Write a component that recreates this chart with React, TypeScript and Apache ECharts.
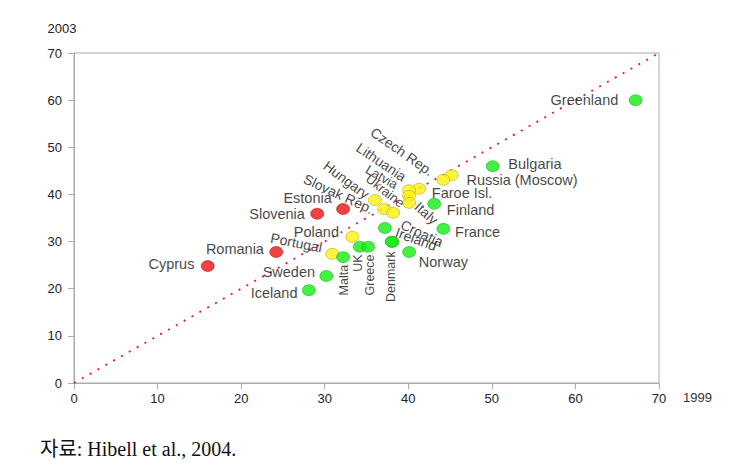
import React, { useEffect, useRef } from "react";
import * as echarts from "echarts";

const countries = [
  "Greenland", "Bulgaria", "Russia (Moscow)", "Czech Rep.", "Faroe Isl.", "Lithuania", "Latvia",
  "Ukraine", "Finland", "Hungary", "Slovak Rep.", "Italy", "Estonia", "Slovenia", "Croatia",
  "France", "Ireland", "Denmark", "Poland", "Portugal", "Malta", "UK", "Greece", "Norway",
  "Romania", "Cyprus", "Sweden", "Iceland",
];
const values1999 = [
  67.2, 50.1, 45.2, 44.2, 41.3, 40.1, 40.1, 40.1, 43.1, 36.0, 37.1, 38.2, 32.2, 29.1, 37.2,
  44.2, 38.1, 38.0, 33.3, 30.9, 32.2, 34.2, 35.2, 40.1, 24.2, 16.0, 30.2, 28.1,
];
const values2003 = [
  60.0, 46.0, 44.1, 43.1, 41.2, 40.9, 39.7, 38.2, 38.0, 38.8, 36.9, 36.1, 36.9, 35.9, 32.9,
  32.7, 29.9, 30.0, 31.0, 27.4, 26.7, 28.9, 28.9, 27.8, 27.8, 24.8, 22.7, 19.7,
];
const groups = [
  "green", "green", "yellow", "yellow", "yellow", "yellow", "yellow", "yellow", "green", "yellow",
  "yellow", "yellow", "red", "red", "green", "green", "green", "green", "yellow", "yellow",
  "green", "green", "green", "green", "red", "red", "green", "green",
];
const xTicks = [0, 10, 20, 30, 40, 50, 60, 70];
const yTicks = [0, 10, 20, 30, 40, 50, 60, 70];
const diagonal = [[0, 0], [70, 70]];
const xAxisTitle = "1999";
const yAxisTitle = "2003";
const caption = "자료: Hibell et al., 2004.";

const palette: Record<string, { fill: string; border: string }> = {
  green: { fill: "#14ee14", border: "#0aa00a" },
  yellow: { fill: "#fff011", border: "#a09a00" },
  red: { fill: "#ee1111", border: "#a00000" },
};

// label placement: [dx, dy from circle centre, align, rotate, fontSize]
const labelLayout: Record<string, [number, number, string, number, number]> = {
  "Greenland": [-17, 0, "right", 0, 14.5],
  "Bulgaria": [16, -2, "left", 0, 14.5],
  "Russia (Moscow)": [15, 5, "left", 0, 14.5],
  "Czech Rep.": [-11, -7, "right", -35, 14],
  "Faroe Isl.": [13, 5, "left", 0, 14.5],
  "Lithuania": [-4, -12, "right", -34, 14],
  "Latvia": [-12, -10, "right", -30, 13],
  "Ukraine": [-6, 2, "right", -38, 13],
  "Finland": [13, 6, "left", 0, 14.5],
  "Hungary": [-7, -4, "right", -37, 14],
  "Slovak Rep.": [-11, 1, "right", -25, 14],
  "Italy": [24, -8, "left", -42, 14],
  "Estonia": [-11, -11, "right", 0, 14.5],
  "Slovenia": [-12, 1, "right", 0, 14.5],
  "Croatia": [17, -4, "left", -25, 14],
  "France": [12, 3, "left", 0, 14.5],
  "Ireland": [4, -10, "left", -20, 14],
  "Denmark": [0, 10, "right", 90, 12.5],
  "Poland": [-13, -5, "right", 0, 14.5],
  "Portugal": [-10, -6, "right", -11, 14],
  "Malta": [1, 8, "right", 90, 12.5],
  "UK": [-1, 8, "right", 90, 12.5],
  "Greece": [2, 8, "right", 90, 12.5],
  "Norway": [10, 10, "left", 0, 14.5],
  "Romania": [-12, -3, "right", 0, 14.5],
  "Cyprus": [-13, -2, "right", 0, 14.5],
  "Sweden": [-11, -4, "right", 0, 14.5],
  "Iceland": [-11, 3, "right", 0, 14.5],
};

const SYM_W = 13;
const SYM_H = 11;

export default function App() {
  const ref = useRef<HTMLDivElement>(null);
  useEffect(() => {
    if (!ref.current) return;
    const chart = echarts.init(ref.current, null, { renderer: "svg" });
    const points = countries.map((name, i) => {
      const [dx, dy, align, rot, fs] = labelLayout[name];
      const pal = palette[groups[i]];
      return {
        name,
        value: [values1999[i], values2003[i]],
        itemStyle: { color: pal.fill, borderColor: pal.border, borderWidth: 0.6 },
        label: {
          show: true,
          position: [SYM_W / 2 + dx, SYM_H / 2 + dy],
          align,
          verticalAlign: "middle",
          rotate: rot,
          fontSize: fs,
          lineHeight: Math.round(fs * 0.9),
          formatter: name,
        },
      };
    });
    const axisFont = { color: "#222", fontSize: 13, fontFamily: "Liberation Sans, Arial, sans-serif" };
    chart.setOption({
      animation: false,
      backgroundColor: "#ffffff",
      title: {
        text: caption,
        left: 40,
        top: 439,
        padding: 0,
        textStyle: {
          fontFamily: "'Liberation Serif', 'Noto Sans CJK KR', serif",
          fontSize: 20,
          fontWeight: "normal",
          color: "#111",
        },
      },
      graphic: [
        {
          type: "text",
          left: 683,
          top: 391,
          style: { text: xAxisTitle, fill: "#333", font: "13px 'Liberation Sans', Arial, sans-serif" },
        },
      ],
      grid: {
        left: 74,
        right: 77,
        top: 53,
        bottom: 83,
        show: true,
        borderColor: "#aaaaaa",
        borderWidth: 1,
        containLabel: false,
        outerBoundsMode: "none",
      },
      xAxis: {
        type: "value",
        min: xTicks[0],
        max: xTicks[xTicks.length - 1],
        interval: 10,
        axisLine: { show: true, lineStyle: { color: "#aaaaaa", width: 1 } },
        axisTick: { show: true, length: 6, lineStyle: { color: "#aaaaaa" } },
        axisLabel: { ...axisFont, margin: 9 },
        splitLine: { show: false },
      },
      yAxis: {
        type: "value",
        min: yTicks[0],
        max: yTicks[yTicks.length - 1],
        interval: 10,
        name: yAxisTitle,
        nameLocation: "end",
        nameGap: 25,
        nameTextStyle: { ...axisFont, align: "center", verticalAlign: "middle", padding: [0, 24, 0, 0] },
        axisLine: { show: true, lineStyle: { color: "#aaaaaa", width: 1 } },
        axisTick: { show: true, length: 6, lineStyle: { color: "#aaaaaa" } },
        axisLabel: { ...axisFont, margin: 12 },
        splitLine: { show: false },
      },
      series: [
        {
          type: "line",
          data: diagonal,
          symbol: "none",
          silent: true,
          z: 1,
          lineStyle: { color: "#e4163c", width: 1.8, type: [2, 7] },
        },
        {
          type: "scatter",
          data: points,
          symbol: "circle",
          symbolSize: [SYM_W, SYM_H],
          z: 3,
          label: {
            show: true,
            color: "#111",
            fontFamily: "Liberation Sans, Arial, sans-serif",
          },
        },
      ],
    });
    return () => chart.dispose();
  }, []);
  return (
    <div
      ref={ref}
      style={{ position: "fixed", left: 0, top: 0, width: 736, height: 466, background: "#fff" }}
    />
  );
}
